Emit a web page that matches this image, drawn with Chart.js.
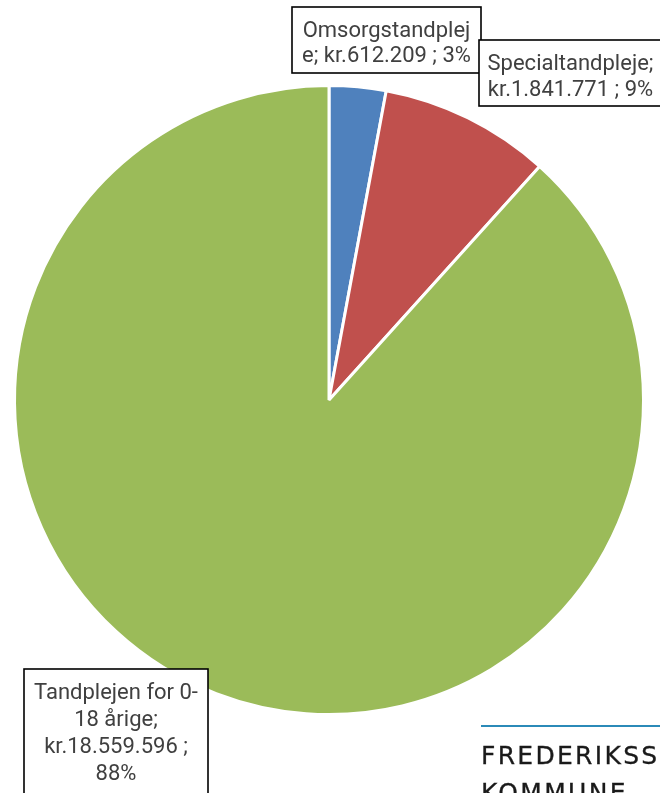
<!DOCTYPE html>
<html>
<head>
<meta charset="utf-8">
<script src="https://cdn.jsdelivr.net/npm/chart.js@4/dist/chart.umd.min.js"></script>
<style>
  html, body { margin: 0; padding: 0; background: #fff; overflow: hidden; }
  #wrap { position: relative; width: 660px; height: 793px; overflow: hidden; }
  canvas { position: absolute; left: 0; top: 0; }
  #logoLine { position: absolute; left: 481px; top: 725px; width: 179px; height: 2px; background: #2b8ab8; }
  #logo { position: absolute; left: 481px; top: 737px; font-family: "DejaVu Sans", sans-serif; font-size: 25px; line-height: 37px; color: #1a1a1a; letter-spacing: 2.3px; white-space: nowrap; -webkit-text-stroke: 0.3px #1a1a1a; }
</style>
</head>
<body>
<div id="wrap">
  <canvas id="c" width="660" height="793"></canvas>
  <div id="logoLine"></div>
  <div id="logo">FREDERIKSSUND<br>KOMMUNE</div>
</div>
<script>
const categories = ["Omsorgstandpleje", "Specialtandpleje", "Tandplejen for 0-18 årige"];
const values = [612209, 1841771, 18559596];
const percentLabels = ["3%", "9%", "88%"];
const colors = ["#4F81BD", "#C0504D", "#9BBB59"];

// label text as shown (wrapped lines)
const labelLines = [
  ["Omsorgstandplej", "e; kr.612.209 ; 3%"],
  ["Specialtandpleje;", "kr.1.841.771 ; 9%"],
  ["Tandplejen for 0-", "18 årige;", "kr.18.559.596 ;", "88%"]
];
const labelBoxes = [
  {x: 292, y: 7, w: 189, h: 66, lh: 25},
  {x: 479, y: 40, w: 183, h: 66, lh: 26},
  {x: 24, y: 669, w: 184, h: 130, lh: 27}
];

const labelPlugin = {
  id: 'labelBoxes',
  afterDraw(chart) {
    const ctx = chart.ctx;
    ctx.save();
    ctx.font = '22px Roboto, "Open Sans", sans-serif';
    ctx.textAlign = 'center';
    ctx.textBaseline = 'alphabetic';
    labelLines.forEach((lines, i) => {
      const b = labelBoxes[i];
      ctx.fillStyle = '#ffffff';
      ctx.fillRect(b.x, b.y, b.w, b.h);
      ctx.strokeStyle = '#000000';
      ctx.lineWidth = 1.6;
      ctx.strokeRect(b.x, b.y, b.w, b.h);
      ctx.fillStyle = '#404040';
      lines.forEach((t, j) => {
        ctx.fillText(t, b.x + b.w / 2, b.y + 30 + j * b.lh);
      });
    });
    ctx.restore();
  }
};

new Chart(document.getElementById('c'), {
  type: 'pie',
  data: {
    labels: categories,
    datasets: [{
      data: values,
      backgroundColor: colors,
      borderColor: '#ffffff',
      borderWidth: 3,
      hoverOffset: 0
    }]
  },
  options: {
    responsive: false,
    animation: false,
    layout: { padding: { left: 13, right: 15, top: 84, bottom: 77 } },
    plugins: {
      legend: { display: false },
      tooltip: { enabled: false },
      title: { display: false }
    }
  },
  plugins: [labelPlugin]
});
</script>
</body>
</html>
